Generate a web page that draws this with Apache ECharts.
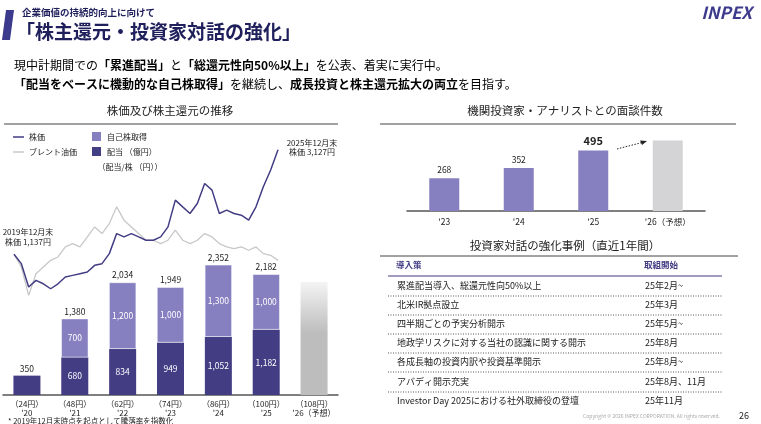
<!DOCTYPE html>
<html><head><meta charset="utf-8">
<script src="https://cdn.jsdelivr.net/npm/echarts@6/dist/echarts.min.js"></script>
<style>html,body{margin:0;padding:0;background:#fff}#c{width:761px;height:424px}</style>
</head><body><div id="c"></div>
<script>
// 株主還元（億円）
var years = ["'20", "'21", "'22", "'23", "'24", "'25", "'26（予想）"];
var perShare = ['24円', '48円', '62円', '74円', '86円', '100円', '108円'];
var dividends = [350, 680, 834, 949, 1052, 1182, null];
var buybacks = [null, 700, 1200, 1000, 1300, 1000, null];
var totals = [350, 1380, 2034, 1949, 2352, 2182, null];
var forecast = [null, null, null, null, null, null, 2040];

// 株価・ブレント油価（2019年12月末=1,137円を起点に指数化、2か月毎）
var stock = [1137, 959, 513, 640, 576, 481, 576, 704, 736, 768, 799, 927, 959, 1150, 1532, 1468, 1532, 1468, 1405,
  1405, 1468, 1659, 2169, 2041, 1914, 2105, 2487, 2360, 1914, 1978, 1914, 1882, 1787, 2041, 2424, 2742, 3127];
var brent = [1137, 895, 354, 768, 895, 1022, 1086, 1277, 1341, 1277, 1468, 1659, 1532, 1723, 2041, 1787, 1659, 1532, 1405,
  1405, 1341, 1405, 1596, 1405, 1341, 1405, 1532, 1468, 1341, 1277, 1245, 1277, 1214, 1277, 1150, 1118, 1022];

// 面談件数
var meetYears = ["'23", "'24", "'25", "'26（予想）"];
var meetings = [268, 352, 495, null];
var meetForecast = [null, null, null, 577];

// 強化事例
var measures = ['累進配当導入、総還元性向50%以上', '北米IR拠点設立', '四半期ごとの予実分析開示',
  '地政学リスクに対する当社の認識に関する開示', '各成長軸の投資内訳や投資基準開示', 'アバディ開示充実',
  'Investor Day 2025における社外取締役の登壇'];
var starts = ['25年2月~', '25年3月', '25年5月~', '25年8月', '25年8月~', '25年8月、11月', '25年11月'];

var F = '"Noto Sans CJK JP", "Noto Sans", sans-serif';
var DARK = '#433d84', LIGHT = '#8680c0', NAVY = '#1f1f5c';
var months = stock.map(function (v, i) { return i; });

function txt(x, y, s, o) {
  o = o || {};
  return { type: 'text', x: x, y: y, z: 10, style: { text: s, font: (o.w || 'normal') + ' ' + (o.s || 10) + 'px ' + F,
    fill: o.c || '#222', textAlign: o.a || 'left', textVerticalAlign: 'middle' } };
}
function line(x1, y1, x2, y2, c, w, dash) {
  return { type: 'line', z: 5, shape: { x1: x1, y1: y1, x2: x2, y2: y2 }, style: { stroke: c, lineWidth: w || 1, lineDash: dash } };
}

var g = [];
// ヘッダー
g.push({ type: 'polygon', shape: { points: [[6, 10], [14, 10], [10, 40], [2, 40]] }, style: { fill: '#3c3a8c' } });
g.push(txt(22, 12, '企業価値の持続的向上に向けて', { s: 9.5, c: NAVY, w: 'bold' }));
g.push(txt(16, 32, '「株主還元・投資家対話の強化」', { s: 19, c: NAVY, w: 'bold' }));
g.push(txt(752, 13, 'INPEX', { s: 17, c: '#3c3a8c', w: 'italic bold', a: 'right' }));
var B = { fontFamily: F, fontSize: 12, fontWeight: 'bold', color: DARK };
var N = { fontFamily: F, fontSize: 12, color: '#222' };
g.push({ type: 'text', x: 14, y: 65, style: { text: '{n|現中計期間での}{b|「累進配当」}{n|と}{b|「総還元性向50%以上」}{n|を公表、着実に実行中。}',
  rich: { n: N, b: B }, textVerticalAlign: 'middle' } });
g.push({ type: 'text', x: 14, y: 84, style: { text: '{b|「配当をベースに機動的な自己株取得」}{n|を継続し、}{b|成長投資と株主還元拡大の両立}{n|を目指す。}',
  rich: { n: N, b: B }, textVerticalAlign: 'middle' } });

// 左パネル
g.push(txt(170, 111, '株価及び株主還元の推移', { s: 11.5, a: 'center' }));
g.push(line(4, 124, 338, 124, '#444', 1));
g.push(line(13, 137, 24, 137, DARK, 1.5));
g.push(txt(29, 137, '株価', { s: 8 }));
g.push(line(13, 152, 24, 152, '#c8c8c8', 1.5));
g.push(txt(29, 152, 'ブレント油価', { s: 8 }));
g.push({ type: 'rect', shape: { x: 92, y: 132, width: 9, height: 9 }, style: { fill: LIGHT } });
g.push(txt(107, 137, '自己株取得', { s: 8 }));
g.push({ type: 'rect', shape: { x: 92, y: 147, width: 9, height: 9 }, style: { fill: DARK } });
g.push(txt(107, 152, '配当 （億円）', { s: 8 }));
g.push(txt(130, 167, '（配当/株 （円））', { s: 8, a: 'center' }));
g.push(txt(312, 143, '2025年12月末', { s: 8, a: 'center' }));
g.push(txt(312, 152, '株価 3,127円', { s: 8, a: 'center' }));
g.push(txt(28, 232, '2019年12月末', { s: 8, a: 'center' }));
g.push(txt(28, 242, '株価 1,137円', { s: 8, a: 'center' }));
g.push(txt(8, 421, '* 2019年12月末時点を起点として騰落率を指数化', { s: 7.5 }));

// 右パネル
g.push(txt(565, 111, '機関投資家・アナリストとの面談件数', { s: 11.5, a: 'center' }));
g.push(line(380, 124, 736, 124, '#444', 1));
g.push({ type: 'line', z: 5, shape: { x1: 617, y1: 149, x2: 644, y2: 142 }, style: { stroke: '#222', lineWidth: 1, lineDash: [1.5, 1.5] } });
g.push({ type: 'polygon', z: 5, shape: { points: [[647, 141], [640, 140.5], [642, 145]] }, style: { fill: '#222' } });
g.push(txt(565, 246, '投資家対話の強化事例（直近1年間）', { s: 11.5, a: 'center' }));
g.push(line(380, 256, 738, 256, '#444', 1));
g.push(txt(396, 265, '導入策', { s: 8.5, w: 'bold', c: DARK }));
g.push(txt(644, 265, '取組開始', { s: 8.5, w: 'bold', c: DARK }));
g.push(line(388, 276, 722, 276, DARK, 1.2));
var rowY = [286, 305, 324, 343, 362, 382, 401];
measures.forEach(function (m, i) {
  g.push(txt(397, rowY[i], m, { s: 9 }));
  g.push(txt(645, rowY[i], starts[i], { s: 9 }));
  if (i < measures.length - 1) g.push(line(388, rowY[i] + 10, 722, rowY[i] + 10, '#555', 1, [1, 1.5]));
});
g.push(txt(720, 416, 'Copyright © 2026 INPEX CORPORATION. All rights reserved.', { s: 5, c: '#aaa', a: 'right' }));
g.push(txt(744, 416, '26', { s: 9, c: '#222', a: 'center' }));

var chart = echarts.init(document.getElementById('c'));
chart.setOption({
  animation: false,
  textStyle: { fontFamily: F },
  grid: [
    { left: 3, width: 335, top: 229, bottom: 29 },
    { left: 14, width: 264, top: 104, bottom: 110 },
    { left: 407, width: 298, top: 89, bottom: 213 }
  ],
  xAxis: [
    { gridIndex: 0, type: 'category', data: years,
      axisLine: { lineStyle: { color: '#555', width: 1.5 } }, axisTick: { show: false },
      axisLabel: { interval: 0, margin: 4, lineHeight: 9, fontSize: 8, color: '#222',
        formatter: function (v, i) { return '（' + perShare[i] + '）\n' + v; } } },
    { gridIndex: 1, type: 'category', data: months, boundaryGap: false, show: false },
    { gridIndex: 2, type: 'category', data: meetYears,
      axisLine: { lineStyle: { color: '#555', width: 1.5 } }, axisTick: { show: false },
      axisLabel: { interval: 0, margin: 7, fontSize: 8.5, color: '#222' } }
  ],
  yAxis: [
    { gridIndex: 0, type: 'value', min: 0, max: 3000, show: false },
    { gridIndex: 1, type: 'value', min: 0, max: 4000, show: false },
    { gridIndex: 2, type: 'value', min: 0, max: 1000, show: false }
  ],
  series: [
    { type: 'line', xAxisIndex: 1, yAxisIndex: 1, data: brent, symbol: 'none', z: 1,
      lineStyle: { color: '#c8c8c8', width: 1.3 } },
    { type: 'line', xAxisIndex: 1, yAxisIndex: 1, data: stock, symbol: 'none', z: 2,
      lineStyle: { color: DARK, width: 1.5 } },
    { type: 'bar', xAxisIndex: 0, yAxisIndex: 0, stack: 'r', data: dividends, barWidth: 27, z: 3,
      itemStyle: { color: DARK },
      label: { show: true, position: 'inside', color: '#fff', fontSize: 8.5,
        formatter: function (p) { return p.dataIndex === 0 ? '' : p.value.toLocaleString('en-US'); } } },
    { type: 'bar', xAxisIndex: 0, yAxisIndex: 0, stack: 'r', data: buybacks, barWidth: 27, z: 3,
      itemStyle: { color: LIGHT, borderColor: '#fff', borderWidth: 0.5 },
      label: { show: true, position: 'inside', color: '#fff', fontSize: 8.5,
        formatter: function (p) { return p.value.toLocaleString('en-US'); } } },
    { type: 'bar', xAxisIndex: 0, yAxisIndex: 0, data: totals, barWidth: 27, barGap: '-100%', z: 2,
      itemStyle: { color: 'rgba(0,0,0,0)' },
      label: { show: true, position: 'top', distance: 3, color: '#222', fontSize: 8.5,
        formatter: function (p) { return p.value.toLocaleString('en-US'); } } },
    { type: 'bar', xAxisIndex: 0, yAxisIndex: 0, data: forecast, barWidth: 27, barGap: '-100%', z: 3,
      itemStyle: { color: new echarts.graphic.LinearGradient(0, 0, 0, 1,
        [{ offset: 0, color: '#f4f4f4' }, { offset: 0.45, color: '#bdbdbd' }, { offset: 1, color: '#bdbdbd' }]) } },
    { type: 'bar', xAxisIndex: 2, yAxisIndex: 2, data: meetings, barWidth: 30,
      itemStyle: { color: LIGHT },
      label: { show: true, position: 'top', distance: 4, color: '#222', fontSize: 8.5,
        rich: { b: { fontSize: 11, fontWeight: 'bold' } },
        formatter: function (p) { return p.dataIndex === 2 ? '{b|' + p.value + '}' : p.value; } } },
    { type: 'bar', xAxisIndex: 2, yAxisIndex: 2, data: meetForecast, barWidth: 30, barGap: '-100%',
      itemStyle: { color: '#d4d4d6' } }
  ],
  graphic: g
});
</script></body></html>
